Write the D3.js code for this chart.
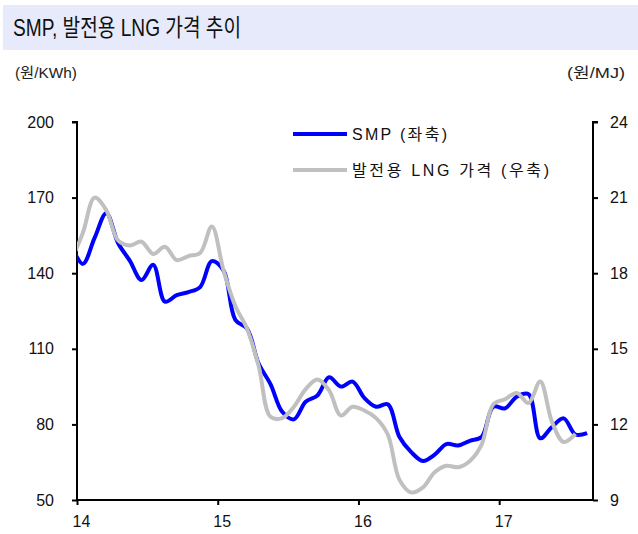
<!DOCTYPE html>
<html>
<head>
<meta charset="utf-8">
<script src="https://cdn.jsdelivr.net/npm/d3@7"></script>
<style>
  body { margin: 0; background: #fff; }
  svg { display: block; font-family: "Liberation Sans", Arial, "Noto Sans CJK KR", sans-serif; }
</style>
</head>
<body>
<div id="chart"></div>
<script>
// monthly values, Dec 2013 .. Aug 2017 (Dec 2013 is cut off at the left axis)
var yearLabels = ['14', '15', '16', '17'];

var smp = [151, 143.7, 154, 163.8, 152, 145, 137.3, 143.3, 128.7, 131.3, 132.5, 134.5, 144.8,
           141, 121.5, 118, 104, 96, 85, 82, 89, 91.5, 98.7, 95, 97,
           90.5, 87, 88, 75, 69, 65.5, 68, 72.2, 71.6, 73.5, 75, 87,
           86.4, 91, 92, 74.5, 79, 82.4, 76, 76.5];

var lng = [18.5, 19.6, 21.0, 20.5, 19.3, 19.1, 19.25, 18.76, 19.05, 18.52, 18.68, 18.8, 19.85,
           18.1, 16.7, 15.8, 14.3, 12.3, 12.25, 12.7, 13.4, 13.78, 13.35, 12.35, 12.7,
           12.55, 12.25, 11.6, 9.8, 9.3, 9.5, 10.1, 10.36, 10.3, 10.55, 11.2, 12.8,
           13.0, 13.25, 12.85, 13.7, 12.1, 11.3, 11.62];

var leftTicks = [50, 80, 110, 140, 170, 200];
var rightTicks = [9, 12, 15, 18, 21, 24];

(function () {
var width = 638, height = 534;
var mLeft = 77, mRight = 593, mTop = 122, mBottom = 500;

var svg = d3.select('#chart').append('svg')
    .attr('width', width)
    .attr('height', height);

svg.append('clipPath').attr('id', 'plot')
    .append('rect')
    .attr('x', mLeft).attr('y', 0)
    .attr('width', mRight - mLeft).attr('height', height);

// title band
svg.append('rect')
    .attr('x', 3).attr('y', 5)
    .attr('width', width - 3).attr('height', 45)
    .attr('fill', '#e6eafb');

svg.append('text')
    .attr('x', 13).attr('y', 36)
    .attr('font-size', 24)
    .attr('textLength', 228)
    .attr('lengthAdjust', 'spacingAndGlyphs')
    .attr('fill', '#111')
    .text('SMP, 발전용 LNG 가격 추이');

svg.append('text')
    .attr('x', 15).attr('y', 78)
    .attr('font-size', 15)
    .attr('textLength', 62)
    .attr('lengthAdjust', 'spacingAndGlyphs')
    .attr('fill', '#222')
    .text('(원/KWh)');

svg.append('text')
    .attr('x', 567).attr('y', 78)
    .attr('font-size', 15)
    .attr('textLength', 58)
    .attr('lengthAdjust', 'spacingAndGlyphs')
    .attr('fill', '#222')
    .text('(원/MJ)');

var x = d3.scaleLinear().domain([0, 44]).range([mLeft, mRight]);
var yL = d3.scaleLinear().domain([50, 200]).range([mBottom, mTop]);
var yR = d3.scaleLinear().domain([9, 24]).range([mBottom, mTop]);

var axisL = svg.append('g')
    .attr('transform', 'translate(' + mLeft + ',0)')
    .call(d3.axisLeft(yL).tickValues(leftTicks).tickSize(5).tickPadding(18));

var axisR = svg.append('g')
    .attr('transform', 'translate(' + mRight + ',0)')
    .call(d3.axisRight(yR).tickValues(rightTicks).tickSize(5).tickPadding(12));

var axisB = svg.append('g')
    .attr('transform', 'translate(0,' + mBottom + ')')
    .call(d3.axisBottom(x).tickValues([0, 12, 24, 36])
        .tickFormat(function (d, i) { return yearLabels[i]; })
        .tickSize(5).tickPadding(11));

[axisL, axisR, axisB].forEach(function (g) {
    g.attr('font-size', 16).attr('font-family', '"Liberation Sans", Arial, sans-serif');
    g.select('.domain').attr('stroke', '#000').attr('stroke-width', 2);
    g.selectAll('.tick line').attr('stroke', '#000').attr('stroke-width', 2);
    g.selectAll('.tick text').attr('fill', '#111');
});
axisB.selectAll('.tick text').attr('dx', 4);
axisL.select('.domain').attr('d', 'M0,' + mBottom + 'V' + mTop + 'H-5');
axisR.select('.domain').attr('d', 'M0,' + mBottom + 'V' + mTop + 'H5');
axisB.select('.domain').attr('d', 'M' + mLeft + ',0H' + mRight);

var lineL = d3.line()
    .x(function (d, i) { return x(i - 0.5); })
    .y(function (d) { return yL(d); })
    .curve(d3.curveCatmullRom.alpha(0.5));

var lineR = d3.line()
    .x(function (d, i) { return x(i - 0.5); })
    .y(function (d) { return yR(d); })
    .curve(d3.curveCatmullRom.alpha(0.5));

var plot = svg.append('g').attr('clip-path', 'url(#plot)');

plot.append('path')
    .datum(smp)
    .attr('d', lineL)
    .attr('fill', 'none')
    .attr('stroke', '#0000ff')
    .attr('stroke-width', 4);

plot.append('path')
    .datum(lng)
    .attr('d', lineR)
    .attr('fill', 'none')
    .attr('stroke', '#c0c0c0')
    .attr('stroke-width', 4);

// legend
var legend = [
    {label: 'SMP (좌축)', color: '#0000ff', y: 134, w: 95},
    {label: '발전용 LNG 가격 (우축)', color: '#c0c0c0', y: 170, w: 197}
];
var lg = svg.selectAll('.legend').data(legend).enter().append('g');
lg.append('line')
    .attr('x1', 293).attr('x2', 347)
    .attr('y1', function (d) { return d.y; })
    .attr('y2', function (d) { return d.y; })
    .attr('stroke', function (d) { return d.color; })
    .attr('stroke-width', 4);
lg.append('text')
    .attr('x', 352)
    .attr('y', function (d) { return d.y + 6; })
    .attr('font-size', 16)
    .attr('textLength', function (d) { return d.w; })
    .attr('fill', '#111')
    .text(function (d) { return d.label; });
})();
</script>
</body>
</html>
